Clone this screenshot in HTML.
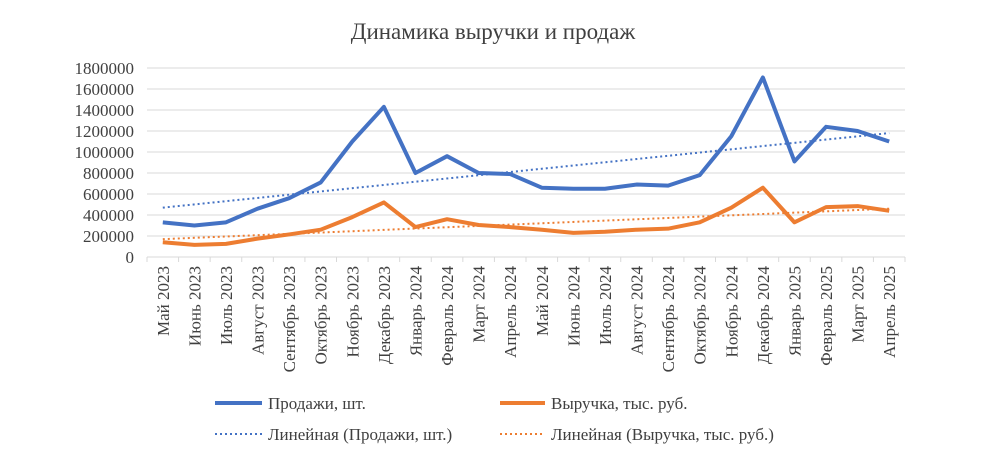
<!DOCTYPE html>
<html><head><meta charset="utf-8"><style>body{margin:0;background:#fff}</style></head><body>
<svg width="997" height="468" xmlns="http://www.w3.org/2000/svg" font-family="Liberation Serif, serif">
<rect width="997" height="468" fill="#fff"/>
<text x="493" y="39" font-size="23" text-anchor="middle" fill="#404040">Динамика выручки и продаж</text>
<g id="grid" stroke="#d9d9d9" stroke-width="1"></g>
<g id="ylab" font-size="17" fill="#404040" text-anchor="end"></g>
<g id="xlab" font-size="17" fill="#404040" text-anchor="end"></g>
<g id="series"></g>
<g font-size="17" fill="#404040">
<line x1="215" y1="403" x2="262" y2="403" stroke="#4472c4" stroke-width="4"/>
<text x="268" y="409">Продажи, шт.</text>
<line x1="500" y1="403" x2="545" y2="403" stroke="#ed7d31" stroke-width="4"/>
<text x="551" y="409">Выручка, тыс. руб.</text>
<line x1="215" y1="434" x2="262" y2="434" stroke="#4472c4" stroke-width="2" stroke-dasharray="2,3"/>
<text x="268" y="440">Линейная (Продажи, шт.)</text>
<line x1="500" y1="434" x2="545" y2="434" stroke="#ed7d31" stroke-width="2" stroke-dasharray="2,3"/>
<text x="551" y="440">Линейная (Выручка, тыс. руб.)</text>
</g>
</svg>
<script>
const ns="http://www.w3.org/2000/svg";
const X0=147,X1=905,Y0=257,Y1=68,n=24,w=(X1-X0)/n;
const y=v=>Y0-(v/1800000)*(Y0-Y1), x=i=>X0+w*(i+0.5);
function el(p,t,a,txt){const e=document.createElementNS(ns,t);for(const k in a)e.setAttribute(k,a[k]);if(txt)e.textContent=txt;document.getElementById(p).appendChild(e);}
for(let v=0;v<=1800000;v+=200000){el('grid','line',{x1:X0,x2:X1,y1:y(v),y2:y(v)});el('ylab','text',{x:134,y:y(v)+6},String(v));}
for(let i=0;i<=n;i++)el('grid','line',{x1:X0+w*i,x2:X0+w*i,y1:Y0,y2:Y0+5});
const m=["Май","Июнь","Июль","Август","Сентябрь","Октябрь","Ноябрь","Декабрь","Январь","Февраль","Март","Апрель"];
for(let i=0;i<n;i++){const lab=m[i%12]+" "+(2023+Math.floor((i+4)/12));const xx=x(i)+6;el('xlab','text',{x:0,y:0,transform:`translate(${xx},266) rotate(-90)`},lab);}
const s=[330000,300000,330000,460000,560000,710000,1100000,1430000,800000,960000,800000,790000,660000,650000,650000,690000,680000,780000,1150000,1710000,910000,1240000,1200000,1100000];
const r=[140000,115000,125000,175000,215000,260000,380000,520000,285000,360000,305000,285000,260000,230000,240000,260000,270000,330000,470000,660000,330000,475000,485000,440000];
el('series','line',{x1:x(0),y1:y(470000),x2:x(23),y2:y(1180000),stroke:"#4472c4","stroke-width":2,"stroke-dasharray":"2,3"});
el('series','line',{x1:x(0),y1:y(170000),x2:x(23),y2:y(460000),stroke:"#ed7d31","stroke-width":2,"stroke-dasharray":"2,3"});
const pts=a=>a.map((v,i)=>x(i)+","+y(v)).join(" ");
el('series','polyline',{points:pts(s),fill:"none",stroke:"#4472c4","stroke-width":4,"stroke-linejoin":"round"});
el('series','polyline',{points:pts(r),fill:"none",stroke:"#ed7d31","stroke-width":4,"stroke-linejoin":"round"});
</script>
</body></html>
